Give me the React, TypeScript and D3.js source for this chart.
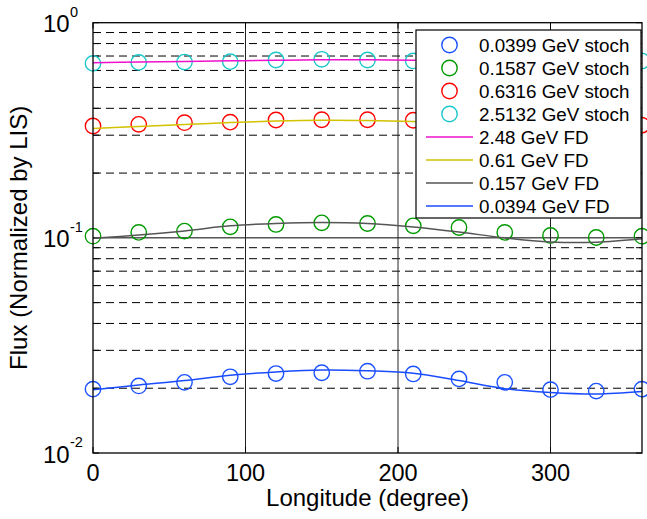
import React from "react";
import * as d3 from "d3";

const longitudes = [0, 30, 60, 90, 120, 150, 180, 210, 240, 270, 300, 330, 360];

const stoch0399 = [0.0198, 0.0205, 0.0213, 0.0226, 0.0234, 0.0236, 0.024, 0.0233, 0.0221, 0.0213, 0.0197, 0.0194, 0.0198];
const stoch1587 = [0.1018, 0.106, 0.1075, 0.1125, 0.1154, 0.1174, 0.1166, 0.1137, 0.1117, 0.106, 0.1026, 0.1004, 0.1018];
const stoch6316 = [0.331, 0.337, 0.343, 0.345, 0.353, 0.354, 0.354, 0.352, 0.348, 0.34, 0.333, 0.328, 0.334];
const stoch25132 = [0.647, 0.654, 0.656, 0.659, 0.671, 0.676, 0.671, 0.664, 0.665, 0.66, 0.655, 0.652, 0.664];

const fd248 = [0.652, 0.656, 0.661, 0.665, 0.669, 0.672, 0.672, 0.669, 0.664, 0.658, 0.652, 0.648, 0.648];
const fd061 = [0.3226, 0.329, 0.336, 0.3435, 0.349, 0.352, 0.351, 0.347, 0.34, 0.329, 0.3206, 0.318, 0.3203];
const fd157 = [0.0995, 0.1031, 0.1077, 0.1137, 0.1167, 0.118, 0.1167, 0.1123, 0.1064, 0.1, 0.0957, 0.0954, 0.099];
const fd0394 = [0.0197, 0.0207, 0.0217, 0.023, 0.0238, 0.0243, 0.0241, 0.0235, 0.0217, 0.0199, 0.0191, 0.0188, 0.0193];

const xTicks = [0, 100, 200, 300];
const yMajor = [0.01, 0.1, 1];
const yExps = ["-2", "-1", "0"];

const stochSeries = [
  { label: "0.0399 GeV stoch", values: stoch0399, color: "#1a50ff" },
  { label: "0.1587 GeV stoch", values: stoch1587, color: "#009a00" },
  { label: "0.6316 GeV stoch", values: stoch6316, color: "#ff0000" },
  { label: "2.5132 GeV stoch", values: stoch25132, color: "#1cc8cc" },
];
const fdSeries = [
  { label: "2.48 GeV FD", values: fd248, color: "#ee11cc" },
  { label: "0.61 GeV FD", values: fd061, color: "#d2c200" },
  { label: "0.157 GeV FD", values: fd157, color: "#555555" },
  { label: "0.0394 GeV FD", values: fd0394, color: "#1a4cff" },
];

const W = 647;
const H = 519;
const L = 93;
const R = 642;
const T = 22.7;
const B = 453;
const FONT = "'Liberation Sans', Arial, Helvetica, sans-serif";

export default function App() {
  const x = d3.scaleLinear().domain([0, 360]).range([L, R]);
  const y = d3.scaleLog().domain([0.01, 1]).range([B, T]);

  const minor: number[] = [];
  [0.01, 0.1].forEach((d) => {
    for (let k = 2; k <= 9; k++) minor.push(d * k);
  });

  const line = d3
    .line<number>()
    .x((_, i) => x(longitudes[i]))
    .y((v) => y(v))
    .curve(d3.curveCatmullRom.alpha(0.5));

  const legendRows = [...stochSeries.map((s) => ({ ...s, kind: "c" })), ...fdSeries.map((s) => ({ ...s, kind: "l" }))];

  return (
    <svg width={W} height={H} style={{ position: "absolute", left: 0, top: 0, background: "#fff" }} fontFamily={FONT}>
      <rect x={0} y={0} width={W} height={H} fill="#fff" />
      {/* minor dashed grid */}
      {minor.map((v, i) => (
        <line key={"mg" + i} x1={L} x2={R} y1={y(v)} y2={y(v)} stroke="#000" strokeWidth={1} strokeDasharray="8,5" />
      ))}
      {/* major grid */}
      <line x1={L} x2={R} y1={y(0.1)} y2={y(0.1)} stroke="#000" strokeWidth={1} />
      {xTicks.slice(1).map((t) => (
        <line key={"vg" + t} x1={x(t)} x2={x(t)} y1={T} y2={B} stroke="#222" strokeWidth={1} />
      ))}
      {/* ticks */}
      {[...yMajor, ...minor].map((v, i) => (
        <g key={"yt" + i}>
          <line x1={L} x2={L + 6} y1={y(v)} y2={y(v)} stroke="#000" />
          <line x1={R} x2={R - 6} y1={y(v)} y2={y(v)} stroke="#000" />
        </g>
      ))}
      {xTicks.map((t) => (
        <g key={"xt" + t}>
          <line x1={x(t)} x2={x(t)} y1={B} y2={B - 6} stroke="#000" />
          <line x1={x(t)} x2={x(t)} y1={T} y2={T + 6} stroke="#000" />
        </g>
      ))}
      {/* stoch circles */}
      {stochSeries.map((s) => (
        <g key={s.label}>
          {s.values.map((v, i) => (
            <circle key={i} cx={x(longitudes[i])} cy={y(v)} r={7.7} fill="none" stroke={s.color} strokeWidth={1.4} />
          ))}
        </g>
      ))}
      {/* FD lines */}
      {fdSeries.map((s) => (
        <path key={s.label} d={line(s.values) || ""} fill="none" stroke={s.color} strokeWidth={1.5} />
      ))}
      {/* axes box */}
      <rect x={L} y={T} width={R - L} height={B - T} fill="none" stroke="#000" strokeWidth={1.3} />
      {/* x tick labels */}
      {xTicks.map((t) => (
        <text key={"xl" + t} x={x(t)} y={480.5} fontSize={23.5} textAnchor="middle" fill="#000">
          {t}
        </text>
      ))}
      {/* y tick labels */}
      {yMajor.map((v, i) => (
        <g key={"yl" + i}>
          <text x={43} y={y(v) + 9.5} fontSize={24} fill="#000">
            10
          </text>
          <text x={70} y={y(v) - 6} fontSize={14.5} fill="#000">
            {yExps[i]}
          </text>
        </g>
      ))}
      {/* axis labels */}
      <text x={(L + R) / 2} y={506} fontSize={24} textAnchor="middle" fill="#000">
        Longitude (degree)
      </text>
      <text transform={`translate(27, ${(T + B) / 2}) rotate(-90)`} fontSize={24} textAnchor="middle" fill="#000">
        Flux (Normalized by LIS)
      </text>
      {/* legend */}
      <rect x={416} y={30} width={225} height={188} fill="#fff" stroke="#000" strokeWidth={1.2} />
      {legendRows.map((r, i) => {
        const cy = 45 + i * 23;
        return (
          <g key={"lg" + i}>
            {r.kind === "c" ? (
              <circle cx={449.5} cy={cy} r={7.7} fill="none" stroke={r.color} strokeWidth={1.4} />
            ) : (
              <line x1={426} x2={473} y1={cy} y2={cy} stroke={r.color} strokeWidth={1.5} />
            )}
            <text x={479} y={cy + 6.7} fontSize={18.8} fill="#000">
              {r.label}
            </text>
          </g>
        );
      })}
    </svg>
  );
}
